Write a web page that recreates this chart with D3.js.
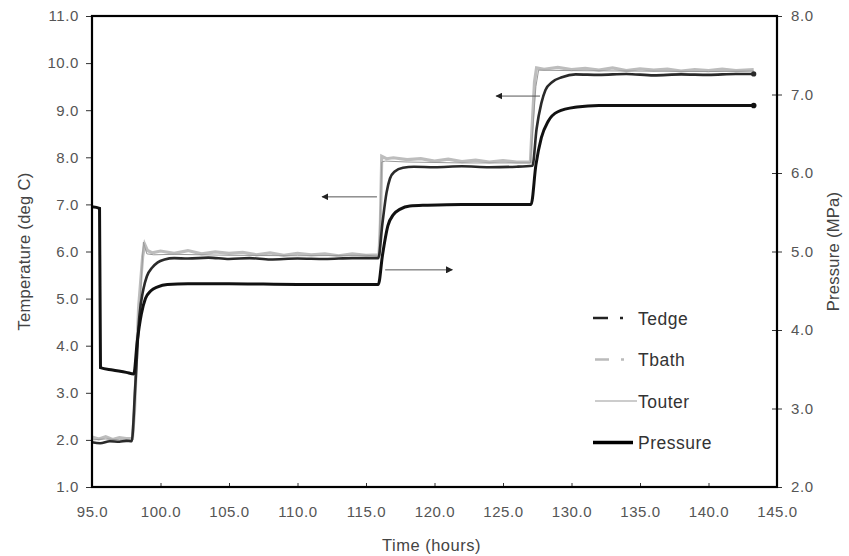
<!DOCTYPE html>
<html>
<head>
<meta charset="utf-8">
<script src="https://cdn.jsdelivr.net/npm/d3@7"></script>
<style>
  body { margin: 0; background: #fff; }
  svg { font-family: "Liberation Sans", Arial, sans-serif; }
</style>
</head>
<body>
<svg id="chart" width="849" height="556"></svg>
<script>
// values (time in hours, temps in deg C, pressure in MPa)
var tedgeTime = [95.0, 95.6, 96.3, 97.0, 97.5, 97.9, 98.15, 98.45, 98.75, 99.0, 99.4, 99.8, 100.3, 101, 102, 103.5, 105, 106.5, 108, 110, 112, 114, 115.9,
  116.2, 116.5, 116.75, 117.1, 117.7, 118.5, 120, 122, 124, 126, 127.15,
  127.45, 127.8, 128.1, 128.6, 129.3, 130.3, 132, 134, 136, 138, 140, 142, 143.3];
var tedgeVals = [1.95, 1.93, 1.97, 1.96, 1.98, 1.97, 3.1, 4.6, 5.2, 5.47, 5.66, 5.77, 5.83, 5.86, 5.85, 5.87, 5.84, 5.86, 5.83, 5.85, 5.84, 5.86, 5.86,
  6.6, 7.25, 7.55, 7.7, 7.78, 7.8, 7.79, 7.81, 7.79, 7.8, 7.82,
  8.6, 9.15, 9.43, 9.6, 9.7, 9.76, 9.75, 9.77, 9.74, 9.76, 9.75, 9.77, 9.77];

var tbathTime = [95.0, 95.5, 96, 96.5, 97, 97.5, 97.95, 98.1, 98.4, 98.7, 98.85, 99.05, 99.4, 100, 101, 102, 103, 104, 105, 106, 107, 108, 109, 110, 111, 112, 113, 114, 115, 115.95,
  116.05, 116.15, 116.5, 117, 118, 119, 120, 121, 122, 123, 124, 125, 126, 127.0,
  127.1, 127.3, 127.45, 128, 129, 130, 131, 132, 133, 134, 135, 136, 137, 138, 139, 140, 141, 142, 143.3];
var tbathVals = [2.06, 2.02, 2.07, 2.01, 2.05, 2.03, 2.03, 2.6, 4.8, 5.9, 6.15, 6.02, 5.97, 6.01, 5.96, 6.02, 5.95, 5.99, 5.96, 5.98, 5.93, 5.97, 5.92, 5.96, 5.93, 5.95, 5.91, 5.95, 5.92, 5.93,
  6.6, 8.02, 7.97, 7.99, 7.95, 7.97, 7.92, 7.96, 7.91, 7.94, 7.9, 7.93, 7.9, 7.9,
  8.5, 9.6, 9.9, 9.87, 9.91, 9.86, 9.89, 9.85, 9.9, 9.84, 9.88, 9.85, 9.87, 9.83, 9.86, 9.84, 9.87, 9.84, 9.86];

var touterTime = [95.0, 96, 97, 97.95, 98.3, 98.75, 98.85, 99.0, 99.5, 101, 105, 110, 115, 115.95,
  116.15, 116.4, 118, 122, 127.0, 127.4, 127.6, 130, 135, 140, 143.3];
var touterVals = [2.0, 2.02, 2.0, 2.0, 3.8, 6.2, 6.1, 5.95, 5.93, 5.94, 5.92, 5.91, 5.92, 5.9,
  7.9, 7.92, 7.9, 7.88, 7.88, 9.5, 9.85, 9.84, 9.83, 9.82, 9.83];

var pressTime = [95.0, 95.55, 95.62, 96.5, 97.5, 98.05, 98.3, 98.6, 98.9, 99.3, 99.8, 100.5, 102, 105, 110, 115.9,
  116.2, 116.6, 117.0, 117.5, 118.2, 119.5, 122, 127.05,
  127.4, 127.8, 128.3, 129, 130.4, 132, 135, 140, 143.3];
var pressVals = [5.57, 5.55, 3.52, 3.49, 3.46, 3.44, 3.85, 4.2, 4.4, 4.5, 4.55, 4.58, 4.59, 4.59, 4.58, 4.58,
  4.95, 5.33, 5.47, 5.54, 5.58, 5.59, 5.6, 5.6,
  6.1, 6.45, 6.66, 6.78, 6.84, 6.86, 6.86, 6.86, 6.86];

var xTicks = [95, 100, 105, 110, 115, 120, 125, 130, 135, 140, 145];
var tTicks = [1, 2, 3, 4, 5, 6, 7, 8, 9, 10, 11];
var pTicks = [2, 3, 4, 5, 6, 7, 8];
var legendNames = ["Tedge", "Tbath", "Touter", "Pressure"];

// arrows: [from time, to time, temperature level]
var arrowsData = [[127.7, 124.5, 9.3], [115.8, 111.8, 7.16], [116.4, 121.3, 5.61]];

var margin = {top: 16, right: 72, bottom: 69, left: 92};
var svg = d3.select('#chart');
var width = 849 - margin.left - margin.right,
    height = 556 - margin.top - margin.bottom;
var g = svg.append('g').attr('transform', 'translate(' + margin.left + ',' + margin.top + ')');

var x = d3.scaleLinear().domain([95, 145]).range([0, width]);
var yT = d3.scaleLinear().domain([1, 11]).range([height, 0]);
var yP = d3.scaleLinear().domain([2, 8]).range([height, 0]);

function zipSeries(ts, vs) {
  return ts.map(function(t, i) { return [t, vs[i]]; });
}

var lineT = d3.line().x(function(d) { return x(d[0]); }).y(function(d) { return yT(d[1]); });
var lineP = d3.line().x(function(d) { return x(d[0]); }).y(function(d) { return yP(d[1]); });

// series
g.append('path').datum(zipSeries(tbathTime, tbathVals))
  .attr('d', lineT.curve(d3.curveLinear))
  .attr('fill', 'none').attr('stroke', '#bdbdbd').attr('stroke-width', 3.2);
g.append('path').datum(zipSeries(touterTime, touterVals))
  .attr('d', lineT.curve(d3.curveLinear))
  .attr('fill', 'none').attr('stroke', '#999').attr('stroke-width', 1);
g.append('path').datum(zipSeries(tedgeTime, tedgeVals))
  .attr('d', lineT.curve(d3.curveMonotoneX))
  .attr('fill', 'none').attr('stroke', '#2a2a2a').attr('stroke-width', 2.6);
g.append('path').datum(zipSeries(pressTime, pressVals))
  .attr('d', lineP.curve(d3.curveMonotoneX))
  .attr('fill', 'none').attr('stroke', '#111').attr('stroke-width', 3);

// end dots
g.append('circle').attr('cx', x(tedgeTime[tedgeTime.length - 1])).attr('cy', yT(tedgeVals[tedgeVals.length - 1]))
  .attr('r', 2.6).attr('fill', '#2a2a2a');
g.append('circle').attr('cx', x(pressTime[pressTime.length - 1])).attr('cy', yP(pressVals[pressVals.length - 1]))
  .attr('r', 2.8).attr('fill', '#111');

// arrows
svg.append('defs').append('marker')
  .attr('id', 'head').attr('viewBox', '0 0 10 10').attr('refX', 9).attr('refY', 5)
  .attr('markerWidth', 7).attr('markerHeight', 7).attr('markerUnits', 'userSpaceOnUse').attr('orient', 'auto')
  .append('path').attr('d', 'M0,0L10,5L0,10Z').attr('fill', '#222');
g.selectAll('.arrow').data(arrowsData).enter().append('line')
  .attr('class', 'arrow')
  .attr('x1', function(d) { return x(d[0]); })
  .attr('x2', function(d) { return x(d[1]); })
  .attr('y1', function(d) { return yT(d[2]); })
  .attr('y2', function(d) { return yT(d[2]); })
  .attr('stroke', '#555').attr('stroke-width', 1)
  .attr('marker-end', 'url(#head)');

// axes
var fmt = d3.format('.1f');
var axB = g.append('g').attr('transform', 'translate(0,' + height + ')')
  .call(d3.axisBottom(x).tickValues(xTicks).tickFormat(fmt).tickSize(4).tickPadding(15));
var axL = g.append('g')
  .call(d3.axisLeft(yT).tickValues(tTicks).tickFormat(fmt).tickSize(6).tickPadding(7));
var axR = g.append('g').attr('transform', 'translate(' + width + ',0)')
  .call(d3.axisRight(yP).tickValues(pTicks).tickFormat(fmt).tickSize(5).tickPadding(9));
axR.selectAll('.tick line').attr('x1', -5);
axB.selectAll('.tick line').attr('y1', -4).attr('y2', 0);
[axB, axL, axR].forEach(function(a) {
  a.select('.domain').remove();
  a.selectAll('.tick line').attr('stroke', '#333');
  a.selectAll('.tick text').attr('fill', '#555').style('font-size', '15px').style('letter-spacing', '0.6px');
});

// frame
g.append('rect').attr('width', width).attr('height', height)
  .attr('fill', 'none').attr('stroke', '#000').attr('stroke-width', 2.2);

// axis titles
svg.append('text').attr('x', margin.left + width / 2 - 3).attr('y', 551)
  .attr('text-anchor', 'middle').attr('fill', '#444').style('font-size', '16.5px').style('letter-spacing', '0.5px')
  .text('Time (hours)');
svg.append('text').attr('transform', 'translate(30,' + (margin.top + height / 2) + ') rotate(-90)')
  .attr('text-anchor', 'middle').attr('fill', '#444').style('font-size', '16.5px').style('letter-spacing', '0.3px')
  .text('Temperature (deg C)');
svg.append('text').attr('transform', 'translate(839,' + (margin.top + height / 2) + ') rotate(-90)')
  .attr('text-anchor', 'middle').attr('fill', '#444').style('font-size', '16.5px').style('letter-spacing', '0.3px')
  .text('Pressure (MPa)');

// legend
var lg = svg.append('g').attr('transform', 'translate(593,318)');
var rows = lg.selectAll('g').data(legendNames).enter().append('g')
  .attr('transform', function(d, i) { return 'translate(0,' + (i * 41.5) + ')'; });
rows.append('text').attr('x', 45).attr('y', 6.5).attr('fill', '#333')
  .style('font-size', '17.5px').style('letter-spacing', '0.5px')
  .text(function(d) { return d; });
rows.filter(function(d) { return d === 'Tedge'; }).append('line')
  .attr('x1', 0).attr('x2', 40).attr('stroke', '#222').attr('stroke-width', 2.6).attr('stroke-dasharray', '15,12,3,20');
rows.filter(function(d) { return d === 'Tbath'; }).append('line')
  .attr('x1', 2).attr('x2', 40).attr('stroke', '#bbb').attr('stroke-width', 2.6).attr('stroke-dasharray', '14,12,3,20');
rows.filter(function(d) { return d === 'Touter'; }).append('line')
  .attr('x1', 2).attr('x2', 44).attr('stroke', '#999').attr('stroke-width', 1);
rows.filter(function(d) { return d === 'Pressure'; }).append('line')
  .attr('x1', 0).attr('x2', 40).attr('stroke', '#000').attr('stroke-width', 3.4);
</script>
</body>
</html>
